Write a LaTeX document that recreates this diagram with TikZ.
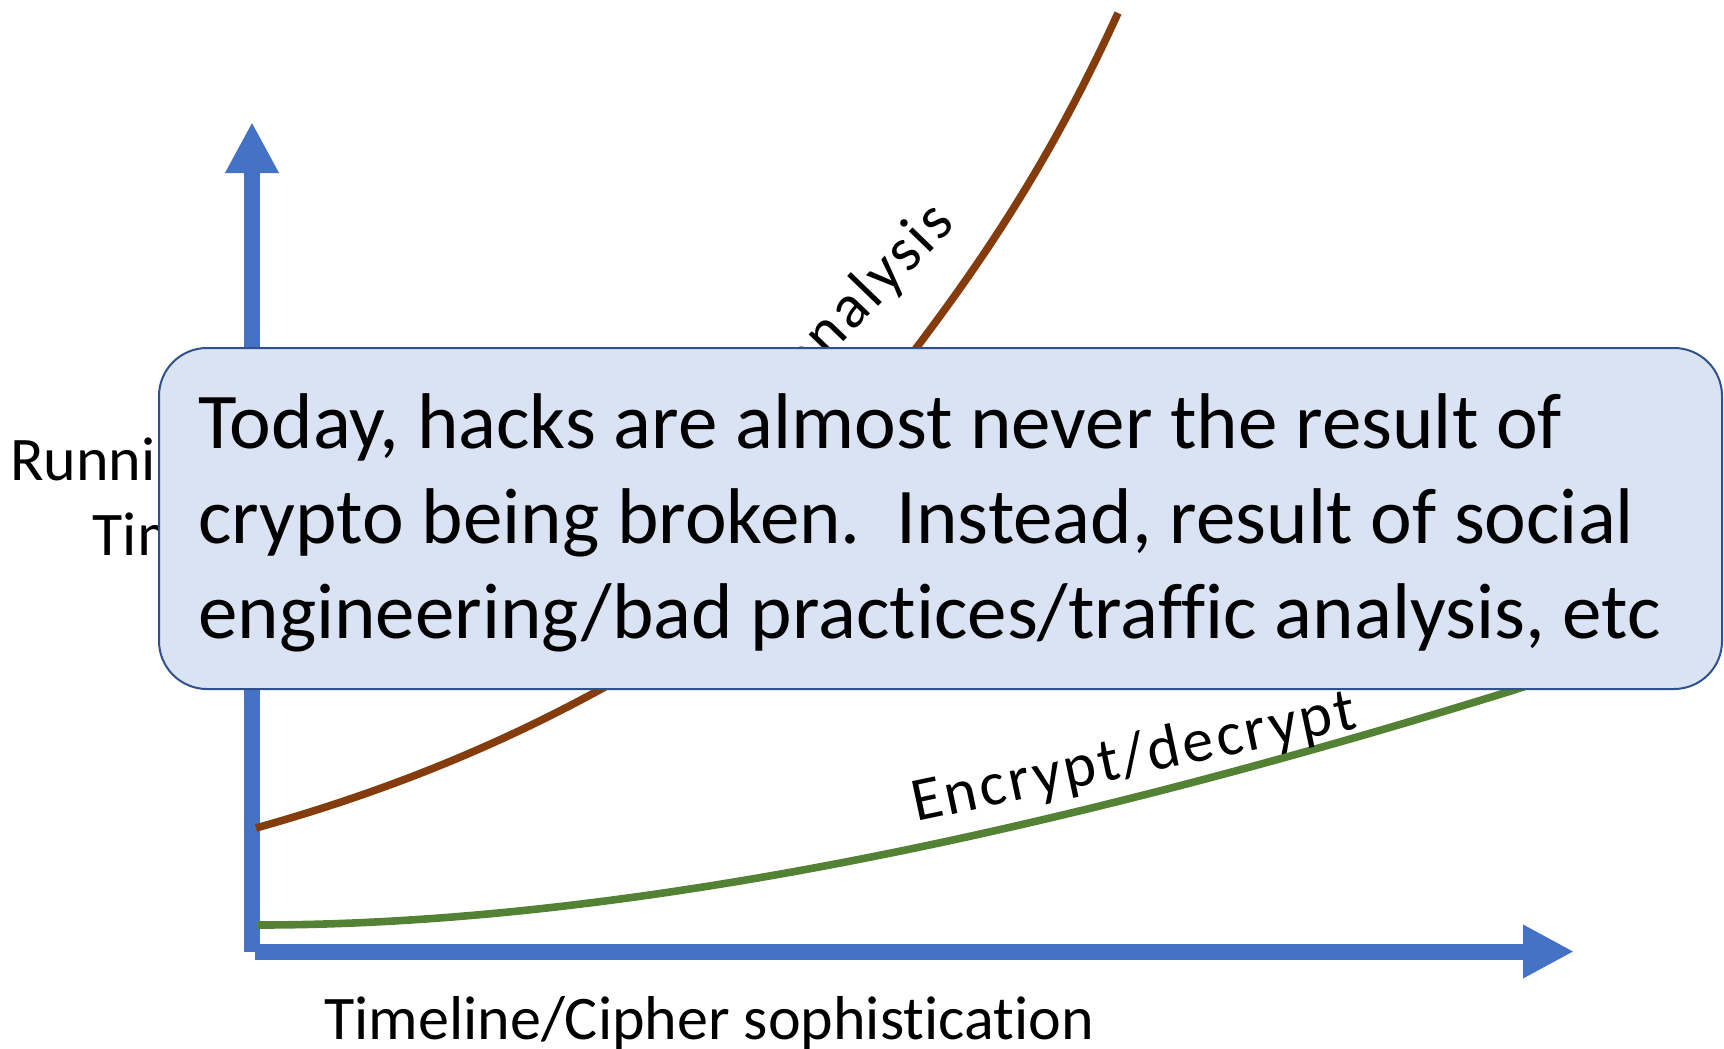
\documentclass[tikz,border=0pt]{standalone}
\usepackage{fontspec}
\setmainfont{Carlito}[Ligatures=NoCommon]
\usepackage{tikz}
\usetikzlibrary{arrows.meta}

\definecolor{axisblue}{HTML}{4472C4}
\definecolor{attackbrown}{HTML}{843C0C}
\definecolor{cryptgreen}{HTML}{548235}
\definecolor{notefill}{HTML}{DAE3F3}
\definecolor{noteline}{HTML}{2F528F}

\begin{document}
\begin{tikzpicture}[x=0.5pt,y=0.5pt,yscale=-1,xscale=1,
  axisline/.style={color=axisblue, line width=8pt, -{Triangle[width=25pt,length=25.5pt]}},
  costline/.style={line width=3.8pt},
  lbl/.style={inner sep=0pt, font=\fontsize{31}{37.5}\selectfont},
  curvelbl/.style={lbl, font=\fontsize{31}{37.5}\selectfont\addfontfeature{LetterSpace=5}}]
\useasboundingbox (0,0) rectangle (1724,1049);
\clip (0,0) rectangle (1724,1049);

\coordinate (origin) at (252,951.5);
\coordinate (ytip) at (252,122);
\coordinate (xstart) at (255,951.5);
\coordinate (xtip) at (1574,951.5);

%Straight Lines (running time axis)
\draw [axisline] (origin) -- (ytip) ;
%Straight Lines (timeline axis)
\draw [axisline] (xstart) -- (xtip) ;

%Curve Lines (cryptanalysis)
\draw [costline, color=attackbrown]  (256,828) .. controls (372,795.5) and (487,751.8) .. (603,688) .. controls (708,630) and (812,487) .. (917,347) .. controls (984,258) and (1051,160) .. (1118,13) ;
%Curve Lines (encrypt/decrypt)
\draw [costline, color=cryptgreen]  (258,925) .. controls (658,925) and (1114,814) .. (1514,690) -- (1580,668) ;

% Text Node
\draw (218,555) node (ylabel) [lbl, anchor=base east, align=right] {Running\\Time};
% Text Node
\draw (324,1039) node (xlabel) [lbl, anchor=base west] {Timeline/Cipher sophistication};
% Text Node
\draw (916,822) node (enclabel) [curvelbl, anchor=base west, rotate=12] {Encrypt/decrypt};
% Text Node
\draw (957,225) node (atklabel) [curvelbl, anchor=base east, rotate=46] {Cryptanalysis};

%Shape: Rounded Rect
\draw [color=noteline, fill=notefill, line width=1pt, rounded corners=24pt] (159,348) rectangle (1722,689) ;
% Text Node
\draw (198,638) node (note) [inner sep=0pt, anchor=base west, align=left, font=\fontsize{39.5}{47.5}\selectfont] {Today, hacks are almost never the result of\\crypto being broken.\ \ Instead, result of social\\engineering/bad practices/traffic analysis, etc};

\end{tikzpicture}
\end{document}
